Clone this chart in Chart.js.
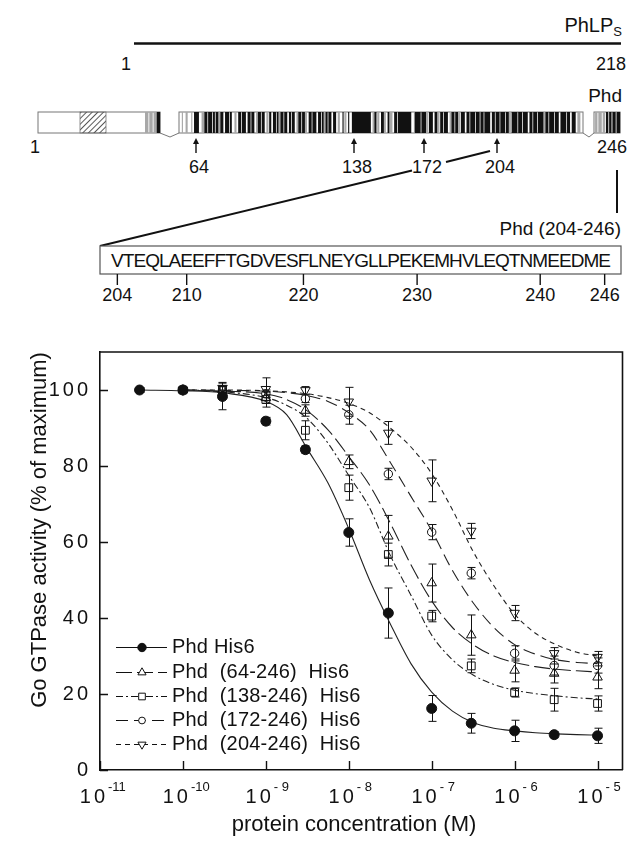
<!DOCTYPE html>
<html>
<head>
<meta charset="utf-8">
<script src="https://cdn.jsdelivr.net/npm/chart.js@4.4.0/dist/chart.umd.min.js"></script>
<style>
  body { margin: 0; background: #fff; width: 629px; height: 841px; position: relative; overflow: hidden;
         font-family: "Liberation Sans", Arial, Helvetica, sans-serif; }
  #diagram { position: absolute; left: 0; top: 0; }
  #chartBox { position: absolute; left: 0; top: 310px; width: 629px; height: 531px; }
</style>
</head>
<body>
<svg id="diagram" width="629" height="310" xmlns="http://www.w3.org/2000/svg"></svg>
<div id="chartBox"><canvas id="gtpaseChart" width="629" height="531"></canvas></div>
<script>
// ---- values ----
const concentrations = [3e-11, 1e-10, 3e-10, 1e-9, 3e-9, 1e-8, 3e-8, 1e-7, 3e-7, 1e-6, 3e-6, 1e-5];

const phdHis6    = [100, 100, 98.3, 91.8, 84.3, 62.5, 41.3, 16.2, 12.3, 10.3, 9.3, 9.0];
const phdHis6Err = [0.6, 0.5, 3.5, 1.0, 1.0, 3.6, 6.6, 3.4, 2.6, 2.8, 0.8, 2.0];
const phd64      = [null, 100, 100, 98, 94.6, 81.1, 61.5, 49.2, 35.5, 26.2, 25.4, 24.4];
const phd64Err   = [null, 0.5, 1, 1.5, 1.5, 1.8, 5.5, 5, 5.3, 3, 2.5, 3];
const phd138     = [null, 100, 100, 97.5, 89.4, 74.3, 56.7, 40.5, 27.4, 20.4, 18.5, 17.5];
const phd138Err  = [null, 0.5, 1, 2, 2.5, 3.3, 3, 1.5, 1.8, 1.2, 3, 2];
const phd172     = [null, 100, 100, 99, 97.7, 93.5, 77.9, 62.6, 51.8, 30.7, 27.5, 27.5];
const phd172Err  = [null, 0.5, 1, 1, 1, 2.5, 1.5, 2, 1.5, 2, 2.5, 2];
const phd204     = [null, 100, 100.5, 100.2, 99.9, 96.9, 88.7, 76.1, 62.9, 41.3, 30.7, 29.7];
const phd204Err  = [null, 0.5, 1.5, 3, 1, 3.8, 3, 5.5, 2, 2, 1.5, 1.5];

// fitted curves
const curveConc = [3.16e-11, 1e-10, 3.16e-10, 1e-9, 1.78e-9, 3.16e-9, 5.62e-9, 1e-8, 1.78e-8, 3.16e-8,
                   5.62e-8, 1e-7, 1.78e-7, 3.16e-7, 5.62e-7, 1e-6, 1.78e-6, 3.16e-6, 5.62e-6, 1e-5];
const phdHis6Fit = [100, 99.8, 99.2, 97, 93.5, 84.5, 75.5, 63.5, 50, 38.5, 28, 20.5, 15.5, 12.5, 11, 10.3, 9.8, 9.5, 9.3, 9.2];
const phd64Fit   = [null, 100, 99.7, 99, 97.5, 94.5, 89.5, 82.5, 75, 65, 54, 44.5, 37.5, 33, 30, 28.3, 27.2, 26.5, 26.1, 25.8];
const phd138Fit  = [null, 100, 99.5, 98, 96, 92.5, 86, 77.5, 69, 56.5, 46, 35.5, 29, 25, 22.5, 21, 20.1, 19.5, 19, 18.7];
const phd172Fit  = [null, 100, 99.9, 99.7, 99.3, 98.5, 97, 94, 89.5, 81, 72, 63, 52.5, 44, 37.5, 33, 30.5, 29, 28.3, 28];
const phd204Fit  = [null, 100, 100, 99.8, 99.5, 99, 98, 96.5, 94, 90, 85, 78, 68.5, 57.5, 48.5, 41, 36, 33, 31, 30];

const seriesLabels = ['Phd His6', 'Phd  (64-246)  His6', 'Phd  (138-246)  His6', 'Phd  (172-246)  His6', 'Phd  (204-246)  His6'];

const xTickValues = [1e-11, 1e-10, 1e-9, 1e-8, 1e-7, 1e-6, 1e-5];
const xTickExponents = ['-11', '-10', '- 9', '- 8', '- 7', '- 6', '- 5'];
const yTickValues = [0, 20, 40, 60, 80, 100];

// ---- styles ----
const ink = '#111';
const seriesStyles = [
  { dash: [], marker: 'circle', radius: 5, fill: ink },
  { dash: [16, 5], marker: 'triangle', radius: 5.5, fill: 'rgba(0,0,0,0)' },
  { dash: [7, 3, 2, 3], marker: 'rect', radius: 5.5, fill: 'rgba(0,0,0,0)' },
  { dash: [12, 6], marker: 'circle', radius: 4.2, fill: 'rgba(0,0,0,0)' },
  { dash: [5, 4], marker: 'triangle', rotation: 180, radius: 5.5, fill: 'rgba(0,0,0,0)' }
];
const seriesValues = [phdHis6, phd64, phd138, phd172, phd204];
const seriesErrors = [phdHis6Err, phd64Err, phd138Err, phd172Err, phd204Err];
const seriesFits = [phdHis6Fit, phd64Fit, phd138Fit, phd172Fit, phd204Fit];

// ---------------- top schematic (svg) ----------------
const svg = document.getElementById('diagram');
const NS = 'http://www.w3.org/2000/svg';
function add(tag, attrs, text, parent) {
  const e = document.createElementNS(NS, tag);
  for (const k in attrs) e.setAttribute(k, attrs[k]);
  if (text != null) e.textContent = text;
  (parent || svg).appendChild(e);
  return e;
}
const font = '"Liberation Sans", Arial, sans-serif';

const defs = add('defs', {});
const hatch = add('pattern', { id: 'hatch', patternUnits: 'userSpaceOnUse', width: 4, height: 4, patternTransform: 'rotate(45)' }, null, defs);
add('line', { x1: 0, y1: 0, x2: 0, y2: 4, stroke: '#111', 'stroke-width': 1.4 }, null, hatch);

// PhLPs bar
const phlp = add('text', { x: 622, y: 32, 'text-anchor': 'end', 'font-family': font, 'font-size': 20, fill: ink });
add('tspan', {}, 'PhLP', phlp);
add('tspan', { dy: 4, 'font-size': 13 }, 'S', phlp);
add('line', { x1: 134, y1: 43.5, x2: 621, y2: 43.5, stroke: ink, 'stroke-width': 2.6 });
add('text', { x: 126, y: 70, 'text-anchor': 'middle', 'font-family': font, 'font-size': 18, fill: ink }, '1');
add('text', { x: 626, y: 70, 'text-anchor': 'end', 'font-family': font, 'font-size': 18, fill: ink }, '218');

// Phd domain bar
add('text', { x: 622, y: 102, 'text-anchor': 'end', 'font-family': font, 'font-size': 19, fill: ink }, 'Phd');
const barTop = 112, barH = 21;
const stripeFill = { k: '#111', g: '#a8a8a8', w: '#fff' };
function stripes(x0, x1, code) {
  const runs = code.trim().split(/\s+/).map(t => [t[0], +t.slice(1)]);
  const total = runs.reduce((a, r) => a + r[1], 0);
  const k = (x1 - x0) / total;
  let x = x0;
  runs.forEach(([c, w]) => {
    if (c !== 'w') add('rect', { x: x, y: barTop, width: w * k + 0.2, height: barH, fill: stripeFill[c] });
    x += w * k;
  });
}
add('rect', { x: 38, y: barTop, width: 122, height: barH, fill: '#fff', stroke: '#777', 'stroke-width': 1 });
add('rect', { x: 80, y: barTop, width: 26, height: barH, fill: 'url(#hatch)', stroke: '#777', 'stroke-width': 0.8 });
stripes(145, 160, 'g3 w1 g3 w1 g3 k3');
add('polyline', { points: '160,133 170,137 179,133', fill: 'none', stroke: '#777', 'stroke-width': 1 });
add('rect', { x: 179, y: barTop, width: 404, height: barH, fill: '#fff', stroke: '#777', 'stroke-width': 1 });
stripes(179, 583,
  'w3 g1 w3 g2 w4 g1 w2 k5 w3 g3 k3 w1 k4 w1 k2 w1 k3 g2 k3 w2 k4 w1 k2 w3 g2 w2 ' +
  'k3 w1 k4 w2 k3 w1 k3 w2 g2 k3 w1 k3 w2 g2 w1 k2 w2 k3 w1 k2 g2 k3 w1 k3 w2 k2 w1 k3 ' +
  'w2 g2 k3 w1 k3 g2 w2 k3 w1 k4 w2 k3 w1 k2 g2 k2 w1 k3 w2 k3 w2 g2 w3 k1 w1 g2 w2 k1 w3 ' +
  'k20 w2 g2 k2 w1 g2 w2 k3 g2 w2 k2 g3 w2 k3 w1 k14 w3 g1 ' +
  'k6 w1 k5 g2 w1 k4 w2 k3 g2 w1 k3 w1 k4 w2 g2 k3 w1 k3 g2 w1 k4 ' +
  'w2 k3 w1 k5 w1 k4 g1 k3 w1 k6 w2 k3 w1 k4 w1 k5 w1 k3 g2 w1 k6 w1 k4 w1 k5 w2 k3 w1 k4 ' +
  'w1 k6 g2 k3 w1 k5 w1 k4 w2 k6 w1 k3 w2 k4 w2 g3 w3');
add('polyline', { points: '583,133 589,137 594,133', fill: 'none', stroke: '#777', 'stroke-width': 1 });
add('rect', { x: 594, y: barTop, width: 26, height: barH, fill: '#fff', stroke: '#777', 'stroke-width': 1 });
stripes(594, 620, 'w1 g2 w1 g3 w1 g2 w1 k2 g1 k2 w1 k3 g1 k3');
add('text', { x: 35, y: 153, 'text-anchor': 'middle', 'font-family': font, 'font-size': 18, fill: ink }, '1');
add('text', { x: 627, y: 153, 'text-anchor': 'end', 'font-family': font, 'font-size': 18, fill: ink }, '246');

// truncation arrows
const cutSites = [64, 138, 172, 204];
const cutX = [196, 354, 424, 497];
cutSites.forEach((s, i) => {
  const x = cutX[i];
  add('line', { x1: x, y1: 153, x2: x, y2: 142, stroke: ink, 'stroke-width': 1.4 });
  add('polygon', { points: `${x - 3},144 ${x},138 ${x + 3},144`, fill: ink });
  add('text', { x: x + 3, y: 173, 'text-anchor': 'middle', 'font-family': font, 'font-size': 18, fill: ink }, String(s));
});

// zoom lines to the 204-246 fragment
add('line', { x1: 490, y1: 151, x2: 446, y2: 162, stroke: ink, 'stroke-width': 2 });
add('line', { x1: 412, y1: 170.5, x2: 100, y2: 246, stroke: ink, 'stroke-width': 2 });
add('line', { x1: 617, y1: 170, x2: 617, y2: 213, stroke: ink, 'stroke-width': 2 });
add('text', { x: 621, y: 235, 'text-anchor': 'end', 'font-family': font, 'font-size': 19, fill: ink }, 'Phd (204-246)');

// sequence box
add('rect', { x: 100, y: 246, width: 521, height: 28, fill: '#fff', stroke: '#555', 'stroke-width': 1.2 });
const seq = 'VTEQLAEEFFTGDVESFLNEYGLLPEKEMHVLEQTNMEEDME';
const seqText = add('text', { x: 111, y: 267, 'font-family': font, 'font-size': 19, fill: ink,
  textLength: 500, lengthAdjust: 'spacing' }, seq);
const residueMarks = [204, 210, 220, 230, 240, 246];
const residueIdx = [0, 6, 16, 26, 36, 41];
residueMarks.forEach((r, i) => {
  let cx;
  try {
    const b = seqText.getExtentOfChar(residueIdx[i]);
    cx = b.x + b.width / 2;
  } catch (e) {
    cx = 111 + (residueIdx[i] + 0.5) * 500 / seq.length;
  }
  add('line', { x1: cx, y1: 274, x2: cx, y2: 285, stroke: ink, 'stroke-width': 1.4 });
  add('text', { x: cx, y: 301, 'text-anchor': 'middle', 'font-family': font, 'font-size': 18, fill: ink }, String(r));
});

// ---------------- dose response chart ----------------
function markerPath(ctx, st, x, y) {
  const r = st.radius;
  ctx.beginPath();
  if (st.marker === 'circle') {
    ctx.arc(x, y, r, 0, Math.PI * 2);
  } else if (st.marker === 'rect') {
    const s = r * Math.SQRT1_2;
    ctx.rect(x - s, y - s, 2 * s, 2 * s);
  } else {
    let rad = (st.rotation || 0) * Math.PI / 180;
    ctx.moveTo(x + Math.sin(rad) * r, y - Math.cos(rad) * r);
    rad += Math.PI * 2 / 3;
    ctx.lineTo(x + Math.sin(rad) * r, y - Math.cos(rad) * r);
    rad += Math.PI * 2 / 3;
    ctx.lineTo(x + Math.sin(rad) * r, y - Math.cos(rad) * r);
    ctx.closePath();
  }
}

const decorations = {
  id: 'decorations',
  beforeDraw(chart) {
    chart.ctx.letterSpacing = '3px';
  },
  beforeDatasetsDraw(chart) {
    const ctx = chart.ctx, xs = chart.scales.x, ys = chart.scales.y;
    ctx.letterSpacing = '0px';
    ctx.save();
    ctx.strokeStyle = ink;
    ctx.lineWidth = 1;
    seriesValues.forEach((vals, s) => {
      vals.forEach((v, i) => {
        const e = seriesErrors[s][i];
        if (v == null || e == null) return;
        const px = Math.round(xs.getPixelForValue(concentrations[i])) + 0.5;
        const top = ys.getPixelForValue(v + e), bot = ys.getPixelForValue(v - e);
        ctx.beginPath();
        ctx.moveTo(px, top); ctx.lineTo(px, bot);
        ctx.moveTo(px - 4, top); ctx.lineTo(px + 4, top);
        ctx.moveTo(px - 4, bot); ctx.lineTo(px + 4, bot);
        ctx.stroke();
      });
    });
    ctx.restore();
  },
  afterDraw(chart) {
    const ctx = chart.ctx, a = chart.chartArea, xs = chart.scales.x, ys = chart.scales.y;
    ctx.save();
    ctx.letterSpacing = '0px';
    ctx.strokeStyle = ink;
    ctx.fillStyle = ink;

    // frame: top and right side
    ctx.lineWidth = 1.6;
    ctx.beginPath();
    ctx.moveTo(a.left, a.top); ctx.lineTo(a.right, a.top); ctx.lineTo(a.right, a.bottom);
    ctx.stroke();

    // inward tick marks
    ctx.lineWidth = 1.4;
    ctx.beginPath();
    yTickValues.forEach(v => {
      const py = Math.round(ys.getPixelForValue(v)) + 0.5;
      ctx.moveTo(a.left, py); ctx.lineTo(a.left + 8, py);
    });
    xTickValues.forEach(v => {
      const px = Math.round(xs.getPixelForValue(v)) + 0.5;
      ctx.moveTo(px, a.bottom); ctx.lineTo(px, a.bottom - 9);
    });
    ctx.stroke();

    // decade labels 10^n
    xTickValues.forEach((v, i) => {
      const px = xs.getPixelForValue(v);
      ctx.letterSpacing = '3px';
      ctx.font = '20px "Liberation Sans", Arial, sans-serif';
      ctx.textAlign = 'right';
      ctx.textBaseline = 'middle';
      ctx.fillText('10', px + 8, a.bottom + 27);
      ctx.letterSpacing = '0px';
      ctx.font = '13px "Liberation Sans", Arial, sans-serif';
      ctx.textAlign = 'left';
      ctx.fillText(xTickExponents[i], px + 8, a.bottom + 17);
    });

    // axis titles
    ctx.font = '22px "Liberation Sans", Arial, sans-serif';
    ctx.textAlign = 'center';
    ctx.textBaseline = 'middle';
    ctx.fillText('protein concentration (M)', 354, 515);
    ctx.save();
    ctx.translate(40, 220);
    ctx.rotate(-Math.PI / 2);
    ctx.fillText('Go GTPase activity (% of maximum)', 0, 0);
    ctx.restore();

    // legend
    const rowY = [337, 362, 386, 410, 434];
    seriesLabels.forEach((label, i) => {
      const st = seriesStyles[i];
      const y = rowY[i] + 0.5;
      ctx.lineWidth = 1.1;
      ctx.setLineDash(st.dash);
      ctx.beginPath();
      ctx.moveTo(116, y); ctx.lineTo(167, y);
      ctx.stroke();
      ctx.setLineDash([]);
      ctx.lineWidth = 1;
      markerPath(ctx, Object.assign({}, st, { radius: st.radius - 0.8 }), 142, y);
      ctx.fillStyle = st.fill === ink ? ink : '#fff';
      ctx.fill();
      ctx.stroke();
      ctx.fillStyle = ink;
      ctx.letterSpacing = '0.2px';
      ctx.font = '20px "Liberation Sans", Arial, sans-serif';
      ctx.textAlign = 'left';
      ctx.textBaseline = 'middle';
      ctx.fillText(label, 172, y);
      ctx.letterSpacing = '0px';
    });
    ctx.restore();
  }
};

const pointDatasets = seriesLabels.map((label, s) => ({
  label: label,
  data: concentrations.map((c, i) => ({ x: c, y: seriesValues[s][i] })).filter(p => p.y != null),
  showLine: false,
  pointStyle: seriesStyles[s].marker,
  pointRotation: seriesStyles[s].rotation || 0,
  pointRadius: seriesStyles[s].radius,
  pointBackgroundColor: seriesStyles[s].fill,
  pointBorderColor: ink,
  pointBorderWidth: 1
}));
const curveDatasets = seriesLabels.map((label, s) => ({
  label: label + ' fit',
  data: curveConc.map((c, i) => ({ x: c, y: seriesFits[s][i] })).filter(p => p.y != null),
  showLine: true,
  pointRadius: 0,
  borderColor: '#222',
  borderWidth: 1.1,
  borderDash: seriesStyles[s].dash,
  cubicInterpolationMode: 'monotone',
  fill: false
}));

const ctx = document.getElementById('gtpaseChart').getContext('2d');
const gtpaseChart = new Chart(ctx, {
  type: 'scatter',
  data: { datasets: pointDatasets.concat(curveDatasets) },
  options: {
    responsive: false,
    devicePixelRatio: 1,
    animation: false,
    events: [],
    layout: { padding: { top: 42, right: 6, left: 0, bottom: 0 } },
    plugins: { legend: { display: false }, tooltip: { enabled: false } },
    scales: {
      x: {
        type: 'logarithmic',
        min: 1e-11,
        max: 2e-5,
        grid: { display: false, drawTicks: false },
        border: { display: true, color: ink, width: 1.6 },
        ticks: { callback: () => '' },
        afterBuildTicks: scale => { scale.ticks = xTickValues.map(v => ({ value: v })); },
        afterFit: scale => { scale.height = 71; }
      },
      y: {
        min: 0,
        max: 110,
        grid: { display: false, drawTicks: false },
        border: { display: true, color: ink, width: 1.6 },
        ticks: {
          padding: 9,
          color: ink,
          font: { family: '"Liberation Sans", Arial, sans-serif', size: 20 }
        },
        afterBuildTicks: scale => { scale.ticks = yTickValues.map(v => ({ value: v })); },
        afterFit: scale => { scale.width = 100; }
      }
    }
  },
  plugins: [decorations]
});
</script>
</body>
</html>
